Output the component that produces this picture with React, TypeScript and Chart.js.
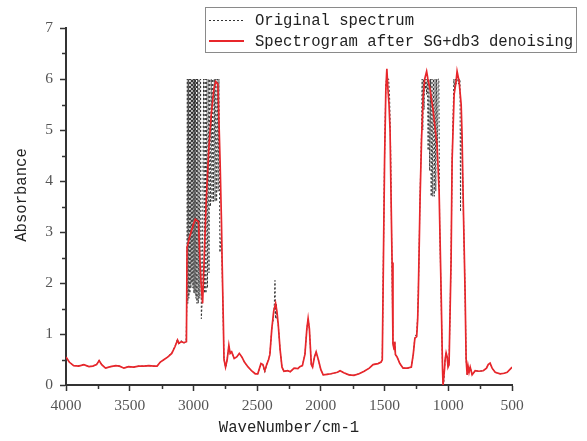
import React, { useEffect, useRef } from 'react';
import { Chart, registerables } from 'chart.js';

Chart.register(...registerables);

// Denoised spectrum (red)
const denoisedWn = [
  4000, 3975, 3940, 3900, 3860, 3820, 3790, 3760, 3740, 3720, 3690, 3650, 3610, 3580, 3545, 3510, 3470, 3430, 3390, 3350,
  3310, 3285, 3260, 3230, 3200, 3170, 3145, 3125, 3115, 3095, 3075, 3055, 3050, 3030, 3000, 2985, 2960, 2950, 2940, 2928,
  2915, 2900, 2880, 2860, 2840, 2825, 2808, 2800, 2791, 2780, 2775, 2765, 2760, 2748, 2735, 2722, 2712, 2700, 2680, 2660,
  2640, 2620, 2600, 2570, 2540, 2515, 2495, 2470, 2455, 2440, 2425, 2410, 2400, 2385, 2370, 2355, 2345, 2335, 2320, 2305,
  2290, 2260, 2240, 2210, 2180, 2165, 2145, 2125, 2110, 2100, 2090, 2075, 2065, 2050, 2037, 2020, 2000, 1982, 1950, 1920,
  1870, 1849, 1820, 1780, 1740, 1700, 1660, 1620, 1590, 1551, 1527, 1518, 1512, 1500, 1490, 1482, 1475, 1465, 1457, 1448,
  1441, 1434, 1425, 1420, 1415, 1402, 1380, 1355, 1320, 1290, 1275, 1262, 1248, 1240, 1235, 1221, 1210, 1198, 1185, 1170,
  1160, 1143, 1120, 1088, 1072, 1056, 1045, 1041, 1036, 1030, 1025, 1017, 1009, 1002, 994, 978, 970, 954, 939, 931,
  915, 899, 892, 884, 868, 860, 852, 845, 837, 828, 813, 789, 760, 726, 700, 687, 672, 656, 632, 593,
  560, 538, 499,
];
const denoisedAbs = [
  0.55, 0.45, 0.38, 0.37, 0.4, 0.36, 0.37, 0.4, 0.48, 0.4, 0.33, 0.36, 0.38, 0.37, 0.33, 0.36, 0.35, 0.37, 0.37, 0.38,
  0.37, 0.37, 0.45, 0.5, 0.55, 0.62, 0.75, 0.88, 0.82, 0.85, 0.83, 0.85, 2.7, 2.9, 3.15, 3.25, 3.2, 2.5, 2.0, 1.6,
  2.5, 3.6, 4.6, 5.3, 5.8, 5.95, 5.9, 5.2, 4.4, 3.2, 2.45, 1.2, 0.5, 0.35, 0.5, 0.78, 0.62, 0.65, 0.52, 0.55,
  0.62, 0.55, 0.45, 0.35, 0.27, 0.22, 0.22, 0.42, 0.4, 0.28, 0.4, 0.5, 0.6, 1.1, 1.45, 1.6, 1.45, 1.2, 0.7, 0.35,
  0.27, 0.28, 0.26, 0.33, 0.32, 0.36, 0.38, 0.6, 1.1, 1.3, 1.1, 0.4, 0.35, 0.55, 0.65, 0.5, 0.3, 0.2, 0.21, 0.22,
  0.25, 0.28, 0.24, 0.2, 0.19, 0.22, 0.27, 0.33, 0.4, 0.42, 0.45, 0.5, 1.8, 4.4, 5.8, 6.2, 5.85, 5.5, 5.0, 3.5,
  2.4, 0.8, 0.7, 0.85, 0.6, 0.55, 0.42, 0.33, 0.33, 0.35, 0.6, 0.92, 0.95, 1.3, 1.8, 3.7, 4.8, 5.6, 6.0, 6.15,
  6.0, 5.8, 5.4, 4.7, 3.8, 1.8, 0.3, 0.0, 0.0, 0.3, 0.5, 0.63, 0.55, 0.35, 0.4, 2.45, 4.4, 5.7, 5.95, 6.15,
  5.95, 5.5, 4.9, 3.76, 1.8, 0.5, 0.2, 0.37, 0.25, 0.35, 0.2, 0.28, 0.27, 0.28, 0.33, 0.4, 0.43, 0.33, 0.25, 0.22,
  0.23, 0.25, 0.35,
];

// Original spectrum (black dotted)
const originalWn = [
  4000, 3975, 3940, 3900, 3860, 3820, 3790, 3760, 3740, 3720, 3690, 3650, 3610, 3580, 3545, 3510, 3470, 3430, 3390, 3350,
  3310, 3285, 3260, 3230, 3200, 3170, 3145, 3125, 3115, 3095, 3075, 3058, 3052, 3048, 3044, 3040, 3036, 3032, 3028, 3024,
  3020, 3016, 3012, 3008, 3004, 3000, 2996, 2992, 2988, 2984, 2980, 2976, 2972, 2968, 2962, 2956, 2950, 2944, 2938, 2932,
  2920, 2914, 2908, 2902, 2896, 2890, 2884, 2878, 2872, 2866, 2860, 2854, 2848, 2842, 2836, 2830, 2824, 2818, 2812, 2806,
  2800, 2792, 2780, 2775, 2765, 2760, 2748, 2744, 2735, 2722, 2712, 2700, 2680, 2660, 2640, 2620, 2600, 2570, 2540, 2515,
  2495, 2470, 2455, 2440, 2425, 2410, 2400, 2385, 2372, 2365, 2360, 2355, 2350, 2345, 2335, 2320, 2305, 2290, 2260, 2240,
  2210, 2180, 2165, 2145, 2125, 2110, 2100, 2090, 2075, 2065, 2050, 2037, 2020, 2000, 1982, 1950, 1920, 1870, 1849, 1820,
  1780, 1740, 1700, 1660, 1620, 1590, 1551, 1527, 1518, 1512, 1500, 1490, 1484, 1476, 1468, 1460, 1452, 1445, 1438, 1434,
  1425, 1420, 1415, 1402, 1380, 1355, 1320, 1290, 1275, 1262, 1248, 1240, 1232, 1221, 1210, 1205, 1200, 1195, 1190, 1185,
  1180, 1175, 1170, 1164, 1158, 1152, 1146, 1140, 1134, 1128, 1122, 1116, 1110, 1104, 1098, 1092, 1086, 1080, 1074, 1068,
  1058, 1045, 1041, 1036, 1030, 1025, 1017, 1009, 1002, 994, 978, 970, 956, 950, 944, 938, 932, 926, 920, 914,
  908, 904, 900, 892, 884, 868, 860, 852, 845, 837, 828, 813, 789, 760, 726, 700, 687, 672, 656, 632,
  593, 560, 538, 499,
];
const originalAbs = [
  0.55, 0.46, 0.38, 0.38, 0.4, 0.36, 0.37, 0.4, 0.49, 0.4, 0.33, 0.36, 0.38, 0.37, 0.33, 0.36, 0.35, 0.37, 0.37, 0.38,
  0.37, 0.37, 0.45, 0.5, 0.56, 0.63, 0.76, 0.9, 0.8, 0.87, 0.82, 0.85, 1.5, 6.0, 1.6, 6.0, 1.7, 6.0, 1.8, 6.0,
  1.9, 6.0, 2.0, 6.0, 1.9, 6.0, 1.8, 6.0, 1.8, 6.0, 1.7, 6.0, 1.6, 6.0, 1.6, 6.0, 1.7, 6.0, 1.3, 1.6,
  6.0, 1.8, 6.0, 1.8, 6.0, 1.9, 6.0, 2.2, 6.0, 3.5, 6.0, 3.6, 6.0, 3.6, 6.0, 3.6, 6.0, 3.6, 6.0, 3.8,
  6.0, 2.6, 3.0, 2.3, 1.1, 0.5, 0.35, 0.36, 0.52, 0.76, 0.62, 0.65, 0.52, 0.55, 0.62, 0.55, 0.45, 0.35, 0.27, 0.22,
  0.22, 0.4, 0.4, 0.25, 0.4, 0.5, 0.6, 1.1, 1.3, 1.6, 2.05, 1.3, 1.6, 1.3, 1.2, 0.7, 0.35, 0.27, 0.28, 0.26,
  0.33, 0.32, 0.36, 0.38, 0.6, 1.1, 1.3, 1.1, 0.4, 0.35, 0.55, 0.65, 0.5, 0.3, 0.2, 0.21, 0.22, 0.25, 0.28, 0.24,
  0.2, 0.19, 0.22, 0.27, 0.33, 0.4, 0.42, 0.45, 0.5, 1.9, 4.5, 5.9, 6.0, 6.0, 6.0, 5.6, 4.6, 3.0, 1.5, 0.8,
  0.7, 0.85, 0.6, 0.55, 0.42, 0.33, 0.33, 0.35, 0.6, 0.95, 1.0, 1.4, 2.2, 3.8, 5.0, 6.0, 5.0, 6.0, 5.4, 6.0,
  5.8, 6.0, 5.7, 6.0, 4.6, 6.0, 4.2, 6.0, 3.7, 6.0, 3.7, 6.0, 3.7, 6.0, 3.8, 6.0, 4.4, 6.0, 6.0, 3.2,
  1.9, 0.3, 0.0, 0.0, 0.3, 0.5, 0.63, 0.55, 0.35, 0.4, 2.5, 4.4, 6.0, 5.8, 6.0, 5.9, 6.0, 6.0, 5.9, 6.0,
  6.0, 3.4, 5.0, 4.8, 3.7, 1.8, 0.5, 0.2, 0.37, 0.25, 0.35, 0.2, 0.28, 0.27, 0.28, 0.33, 0.4, 0.43, 0.33, 0.25,
  0.22, 0.23, 0.25, 0.35,
];

const xMinorTicks = [3750, 3250, 2750, 2250, 1750, 1250, 750];
const yMinorTicks = [0.5, 1.5, 2.5, 3.5, 4.5, 5.5, 6.5];
const legendLabels = ['Original spectrum', 'Spectrogram after SG+db3 denoising'];
const xTitle = 'WaveNumber/cm-1';
const yTitle = 'Absorbance';

const RED = '#e8262b';
const DOT = '#333333';
const AXIS = '#333333';
const MONO = '"Liberation Mono", "DejaVu Sans Mono", monospace';
const SERIF = '"Liberation Serif", "DejaVu Serif", serif';

const extrasPlugin = {
  id: 'extras',
  afterDraw(chart: any) {
    const ctx = chart.ctx;
    const xs = chart.scales.x;
    const ys = chart.scales.y;
    const area = chart.chartArea;
    ctx.save();
    // minor ticks
    ctx.strokeStyle = AXIS;
    ctx.lineWidth = 1.5;
    ctx.beginPath();
    yMinorTicks.forEach((v) => {
      const py = Math.round(ys.getPixelForValue(v)) + 0.5;
      ctx.moveTo(area.left - 4, py);
      ctx.lineTo(area.left, py);
    });
    xMinorTicks.forEach((v) => {
      const px = Math.round(xs.getPixelForValue(v)) + 0.5;
      ctx.moveTo(px, area.bottom);
      ctx.lineTo(px, area.bottom + 4);
    });
    ctx.stroke();

    // y title
    ctx.fillStyle = '#222';
    ctx.font = `15.6px ${MONO}`;
    ctx.textAlign = 'center';
    ctx.textBaseline = 'middle';
    ctx.translate(22, 195);
    ctx.rotate(-Math.PI / 2);
    ctx.fillText(yTitle, 0, 0);
    ctx.setTransform(1, 0, 0, 1, 0, 0);

    // legend
    const bx = 205.5, by = 7.5, bw = 371, bh = 45;
    ctx.fillStyle = '#ffffff';
    ctx.fillRect(bx, by, bw, bh);
    ctx.strokeStyle = '#8a8a8a';
    ctx.lineWidth = 1;
    ctx.strokeRect(bx, by, bw, bh);
    const rows = [20, 41];
    ctx.strokeStyle = DOT;
    ctx.lineWidth = 1;
    ctx.setLineDash([2, 2]);
    ctx.beginPath();
    ctx.moveTo(209, rows[0] + 0.5);
    ctx.lineTo(244, rows[0] + 0.5);
    ctx.stroke();
    ctx.setLineDash([]);
    ctx.strokeStyle = RED;
    ctx.lineWidth = 1.8;
    ctx.beginPath();
    ctx.moveTo(209, rows[1]);
    ctx.lineTo(244, rows[1]);
    ctx.stroke();
    ctx.fillStyle = '#222';
    ctx.font = `15.6px ${MONO}`;
    ctx.textAlign = 'left';
    ctx.textBaseline = 'middle';
    legendLabels.forEach((t, i) => ctx.fillText(t, 255, rows[i] + 1));
    ctx.restore();
  },
};

export default function App() {
  const ref = useRef<HTMLCanvasElement | null>(null);
  useEffect(() => {
    document.body.style.margin = '0';
    const canvas = ref.current;
    if (!canvas) return;
    const chart = new Chart(canvas, {
      type: 'line',
      data: {
        datasets: [
          {
            label: legendLabels[1],
            data: denoisedWn.map((x, i) => ({ x, y: denoisedAbs[i] })),
            borderColor: RED,
            borderWidth: 1.7,
            pointRadius: 0,
            tension: 0,
            order: 0,
          },
          {
            label: legendLabels[0],
            data: originalWn.map((x, i) => ({ x, y: originalAbs[i] })),
            borderColor: DOT,
            borderWidth: 1,
            borderDash: [2, 2],
            pointRadius: 0,
            tension: 0,
            order: 1,
          },
        ],
      },
      options: {
        animation: false,
        responsive: false,
        devicePixelRatio: 1,
        layout: { padding: { top: 28, right: 75, bottom: 0, left: 0 } },
        plugins: { legend: { display: false }, tooltip: { enabled: false } },
        scales: {
          x: {
            type: 'linear',
            reverse: true,
            min: 500,
            max: 4000,
            afterFit: (s: any) => { s.height = 56; },
            ticks: {
              stepSize: 500,
              color: '#555',
              font: { family: SERIF, size: 15.5 },
              padding: 6,
              maxRotation: 0,
              callback: (v: any) => String(v),
            },
            grid: { drawOnChartArea: false, drawTicks: true, tickLength: 6, tickColor: AXIS, tickWidth: 1.5 },
            border: { display: true, color: AXIS, width: 2 },
            title: { display: true, text: xTitle, color: '#222', font: { family: MONO, size: 15.6 }, padding: { top: 0, bottom: 4 } },
          },
          y: {
            min: 0,
            max: 7,
            afterFit: (s: any) => { s.width = 66; },
            ticks: { stepSize: 1, color: '#555', font: { family: SERIF, size: 15.5 }, padding: 7, callback: (v: any) => String(v) },
            grid: { drawOnChartArea: false, drawTicks: true, tickLength: 6, tickColor: AXIS, tickWidth: 1.5 },
            border: { display: true, color: AXIS, width: 2 },
          },
        },
      },
      plugins: [extrasPlugin],
    });
    return () => chart.destroy();
  }, []);
  return (
    <div style={{ width: 587, height: 441, position: 'relative', background: '#fff' }}>
      <canvas ref={ref} width={587} height={441} />
    </div>
  );
}
